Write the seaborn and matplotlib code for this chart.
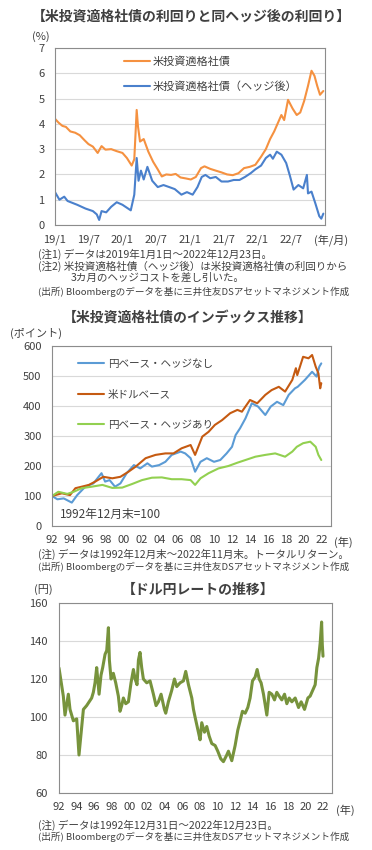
import pandas as pd
import matplotlib
matplotlib.use("Agg")
import matplotlib.pyplot as plt
import seaborn as sns

sns.set_style("white")
plt.rcParams['font.family'] = ['Noto Sans CJK JP', 'DejaVu Sans']

# ---- データ ----
# 1) 米投資適格社債の利回り（%）
yield_dates = ['2019-01-01', '2019-01-20', '2019-02-10', '2019-03-01', '2019-03-25', '2019-04-20',
               '2019-05-15', '2019-06-10', '2019-07-01', '2019-07-25', '2019-08-20', '2019-09-10',
               '2019-10-01', '2019-11-01', '2019-12-01', '2020-01-01', '2020-01-25', '2020-02-20',
               '2020-03-05', '2020-03-18', '2020-03-25', '2020-04-05', '2020-04-25', '2020-05-20',
               '2020-06-15', '2020-07-10', '2020-08-01', '2020-08-25', '2020-09-20', '2020-10-15',
               '2020-11-10', '2020-12-10', '2021-01-05', '2021-02-01', '2021-03-01', '2021-03-20',
               '2021-04-20', '2021-05-20', '2021-06-20', '2021-07-20', '2021-08-20', '2021-09-20',
               '2021-10-20', '2021-11-20', '2021-12-20', '2022-01-20', '2022-02-15', '2022-03-10',
               '2022-04-01', '2022-04-25', '2022-05-10', '2022-05-25', '2022-06-15', '2022-07-10',
               '2022-08-01', '2022-08-20', '2022-09-10', '2022-10-01', '2022-10-20', '2022-11-05',
               '2022-11-20', '2022-12-05', '2022-12-23']
yield_values = [4.2, 4.05, 3.92, 3.88, 3.70, 3.65,
                3.55, 3.35, 3.20, 3.10, 2.85, 3.12,
                2.98, 3.0, 2.92, 2.85, 2.65, 2.35,
                2.6, 4.55, 3.9, 3.3, 3.4, 2.9,
                2.5, 2.2, 1.92, 2.0, 1.98, 2.02,
                1.88, 1.84, 1.8, 1.9, 2.25, 2.32,
                2.22, 2.15, 2.08, 2.0, 1.97, 2.05,
                2.25, 2.3, 2.38, 2.7, 3.0, 3.4,
                3.7, 4.1, 4.35, 4.15, 4.95, 4.6,
                4.35, 4.45, 4.9, 5.5, 6.1, 5.9,
                5.5, 5.15, 5.3]

hedged_dates = ['2019-01-01', '2019-01-25', '2019-02-20', '2019-03-10', '2019-05-01', '2019-06-15',
                '2019-07-25', '2019-08-15', '2019-08-28', '2019-09-10', '2019-10-05', '2019-11-01',
                '2019-12-01', '2020-01-01', '2020-02-15', '2020-03-05', '2020-03-18', '2020-03-28',
                '2020-04-10', '2020-04-25', '2020-05-15', '2020-06-10', '2020-07-10', '2020-08-10',
                '2020-09-10', '2020-10-10', '2020-11-15', '2020-12-15', '2021-01-15', '2021-02-10',
                '2021-03-05', '2021-03-25', '2021-04-20', '2021-05-20', '2021-06-20', '2021-07-25',
                '2021-08-25', '2021-09-25', '2021-10-25', '2021-11-25', '2021-12-20', '2022-01-20',
                '2022-02-15', '2022-03-10', '2022-03-25', '2022-04-15', '2022-05-10', '2022-06-05',
                '2022-06-25', '2022-07-15', '2022-08-10', '2022-09-05', '2022-09-25', '2022-10-01',
                '2022-10-20', '2022-11-10', '2022-12-01', '2022-12-12', '2022-12-23']
hedged_values = [1.3, 1.0, 1.12, 0.95, 0.8, 0.65,
                 0.55, 0.42, 0.2, 0.55, 0.5, 0.72,
                 0.9, 0.8, 0.58, 1.2, 2.65, 1.75,
                 2.15, 1.8, 2.3, 1.75, 1.5, 1.58,
                 1.5, 1.42, 1.2, 1.3, 1.2, 1.5,
                 1.9, 1.98, 1.85, 1.9, 1.72, 1.72,
                 1.78, 1.78, 1.9, 2.05, 2.2, 2.35,
                 2.65, 2.78, 2.62, 2.9, 2.78, 2.45,
                 1.95, 1.4, 1.58, 1.45, 1.98, 1.25,
                 1.32, 0.85, 0.35, 0.25, 0.45]

# 2) インデックス（1992年12月末=100、x は年の小数表示）
idx_usd_years = [1993.0, 1994.1, 1995.0, 1995.6, 1996.3, 1997.1, 1997.8, 1998.7, 1999.7, 2000.6,
                 2001.5, 2002.3, 2003.4, 2004.5, 2005.6, 2006.5, 2007.4, 2008.4, 2008.9, 2009.7,
                 2010.4, 2011.1, 2011.9, 2012.8, 2013.6, 2014.1, 2015.0, 2015.8, 2016.7, 2017.4,
                 2018.2, 2018.9, 2019.7, 2020.1, 2020.25, 2020.9, 2021.5, 2021.9, 2022.3, 2022.6,
                 2022.8, 2022.92]
idx_usd = [100, 109, 103, 126, 131, 137, 148, 164, 159, 164,
           181, 198, 226, 237, 242, 242, 259, 270, 237, 298,
           314, 337, 353, 376, 387, 381, 420, 409, 437, 453,
           464, 448, 487, 526, 503, 564, 559, 570, 531, 509,
           459, 476]

idx_jpy_years = [1993.0, 1993.6, 1994.3, 1995.2, 1995.8, 1996.7, 1997.6, 1998.5, 1998.9, 1999.4,
                 2000.0, 2000.6, 2001.3, 2002.1, 2002.8, 2003.6, 2004.1, 2004.9, 2005.6, 2006.3,
                 2007.3, 2007.8, 2008.4, 2008.9, 2009.5, 2010.2, 2011.0, 2011.7, 2012.4, 2013.0,
                 2013.4, 2013.9, 2014.5, 2015.2, 2015.9, 2016.7, 2017.3, 2018.0, 2018.7, 2019.3,
                 2020.0, 2020.3, 2021.1, 2021.9, 2022.4, 2022.7, 2022.92]
idx_jpy = [100, 89, 92, 78, 103, 131, 142, 176, 148, 153,
           131, 142, 176, 203, 192, 209, 198, 203, 214, 237,
           248, 242, 226, 181, 214, 226, 214, 220, 242, 264,
           303, 326, 359, 409, 398, 370, 398, 414, 403, 437,
           459, 464, 487, 514, 498, 531, 542]

idx_hedge_years = [1993.0, 1993.7, 1994.7, 1995.4, 1996.3, 1997.4, 1998.6, 1999.7, 2000.8, 2001.9,
                   2003.0, 2004.1, 2005.2, 2006.3, 2007.4, 2008.4, 2008.9, 2009.5, 2010.4, 2011.5,
                   2012.6, 2013.6, 2014.5, 2015.6, 2016.7, 2017.8, 2018.9, 2019.7, 2020.2, 2020.9,
                   2021.7, 2022.3, 2022.6, 2022.92]
idx_hedge = [100, 114, 107, 114, 126, 131, 137, 127, 128, 140,
             153, 161, 162, 156, 156, 153, 137, 159, 176, 192,
             200, 211, 220, 231, 237, 242, 231, 248, 264, 276,
             281, 264, 237, 220]

# 3) ドル円レート（円）
fx_years = [1993.0, 1993.49, 1993.68, 1994.06, 1994.25, 1994.63, 1995.01, 1995.27, 1995.77, 1996.14,
            1996.71, 1996.9, 1997.09, 1997.28, 1997.55, 1997.77, 1997.96, 1998.23, 1998.42, 1998.61,
            1998.72, 1998.91, 1999.17, 1999.44, 1999.74, 1999.93, 2000.12, 2000.31, 2000.58, 2000.88,
            2001.18, 2001.45, 2001.64, 2001.86, 2002.02, 2002.2, 2002.39, 2002.58, 2002.96, 2003.34,
            2003.72, 2004.02, 2004.29, 2004.59, 2004.97, 2005.12, 2005.42, 2005.8, 2006.11, 2006.37,
            2006.75, 2007.13, 2007.39, 2007.7, 2008.08, 2008.27, 2008.45, 2008.83, 2009.02, 2009.21,
            2009.52, 2009.78, 2010.05, 2010.35, 2010.73, 2011.03, 2011.37, 2011.67, 2012.05, 2012.24,
            2012.62, 2013.0, 2013.3, 2013.57, 2013.83, 2014.14, 2014.44, 2014.7, 2014.97, 2015.27,
            2015.5, 2015.73, 2015.95, 2016.22, 2016.6, 2016.86, 2017.17, 2017.47, 2017.73, 2018.0,
            2018.3, 2018.61, 2018.87, 2019.14, 2019.44, 2019.82, 2020.2, 2020.5, 2020.88, 2021.26,
            2021.52, 2021.9, 2022.09, 2022.28, 2022.48, 2022.66, 2022.82, 2022.9, 2022.98]
fx_rate = [125.8, 111, 101, 112, 104, 98, 99, 80, 104, 106,
           110, 113, 118, 126, 112, 122, 126, 133, 135, 147,
           130, 120, 123, 118, 111, 103, 106, 110, 107, 108,
           118, 125, 120, 117, 130, 134, 126, 120, 118, 119,
           112, 106, 108, 112, 104, 102, 108, 114, 120, 116,
           118, 119, 124, 117, 110, 104, 100, 92, 88, 97,
           92, 95, 90, 86, 85, 82, 78, 76.5, 80, 82,
           77, 85, 93, 98, 103, 102, 105, 110, 119, 121,
           125, 120, 118, 112, 101, 113, 112, 109, 113, 111,
           109, 112, 107, 110, 108, 110, 105, 108, 104, 110,
           111, 115, 117, 126, 131, 139, 150, 138, 132]

# ---- 描画 ----
W, H = 372, 850
TXT = '#404040'
GRID = '#d9d9d9'
SPINE = '#8c8c8c'

fig = plt.figure(figsize=(W / 100, H / 100), dpi=100)


def fx(x):
    return x / W


def fy(y):
    return 1 - y / H


def make_ax(l, t, r, b, ypad):
    ax = fig.add_axes([fx(l), fy(b), (r - l) / W, (b - t) / H])
    for s in ax.spines.values():
        s.set_color(SPINE)
        s.set_linewidth(0.8)
    ax.grid(axis='y', color=GRID, lw=0.8)
    ax.set_axisbelow(True)
    ax.tick_params(axis='x', direction='in', length=3, color=SPINE, labelsize=8,
                   labelcolor=TXT, pad=6.5)
    ax.tick_params(axis='y', length=0, labelsize=8, labelcolor=TXT, pad=ypad)
    return ax


def fig_text(x, y, s, size=7.5, ha='left', weight='normal'):
    fig.text(fx(x), fy(y), s, fontsize=size, ha=ha, va='center', color=TXT, fontweight=weight)


NOTE = 7.6
SRC = 6.9

# パネル1
fig_text(191, 17, '【米投資適格社債の利回りと同ヘッジ後の利回り】', size=10, ha='center', weight='bold')
ax1 = make_ax(55, 48, 325, 225, 7.5)
df_y = pd.DataFrame({'date': pd.to_datetime(yield_dates), 'value': yield_values})
df_h = pd.DataFrame({'date': pd.to_datetime(hedged_dates), 'value': hedged_values})
sns.lineplot(data=df_y, x='date', y='value', ax=ax1, color='#F59140', lw=1.5, label='米投資適格社債')
sns.lineplot(data=df_h, x='date', y='value', ax=ax1, color='#4A80CC', lw=1.5,
             label='米投資適格社債（ヘッジ後）')
ax1.set_ylim(0, 7)
ax1.set_yticks(range(0, 8))
ax1.set_xlim(pd.Timestamp('2019-01-01'), pd.Timestamp('2023-01-01'))
tick_dates = pd.to_datetime(['2019-01-01', '2019-07-01', '2020-01-01', '2020-07-01',
                             '2021-01-01', '2021-07-01', '2022-01-01', '2022-07-01'])
ax1.set_xticks(tick_dates)
ax1.set_xticklabels(['19/1', '19/7', '20/1', '20/7', '21/1', '21/7', '22/1', '22/7'])
ax1.set_xlabel('')
ax1.set_ylabel('')
ax1.legend(loc='upper left', bbox_to_anchor=(fx(124), fy(56)), bbox_transform=fig.transFigure,
           frameon=False, fontsize=8, handlelength=2.3, handletextpad=0.3, labelspacing=1.3,
           borderaxespad=0, borderpad=0, labelcolor=TXT)
fig_text(41, 37, '(%)', size=8, ha='center')
fig_text(331, 240, '(年/月)', size=8, ha='center')
fig_text(38, 254, '(注1) データは2019年1月1日～2022年12月23日。', size=NOTE)
fig_text(38, 266, '(注2) 米投資適格社債（ヘッジ後）は米投資適格社債の利回りから', size=NOTE)
fig_text(71, 278, '3カ月のヘッジコストを差し引いた。', size=NOTE)
fig_text(38, 292, '(出所) Bloombergのデータを基に三井住友DSアセットマネジメント作成', size=SRC)

# パネル2
fig_text(188, 318, '【米投資適格社債のインデックス推移】', size=10, ha='center', weight='bold')
ax2 = make_ax(52, 346, 331, 526, 7.5)
sns.lineplot(x=idx_jpy_years, y=idx_jpy, ax=ax2, color='#5B9BD5', lw=1.5, label='円ベース・ヘッジなし')
sns.lineplot(x=idx_usd_years, y=idx_usd, ax=ax2, color='#C55A11', lw=1.5, label='米ドルベース')
sns.lineplot(x=idx_hedge_years, y=idx_hedge, ax=ax2, color='#92D050', lw=1.5, label='円ベース・ヘッジあり')
ax2.set_ylim(0, 600)
ax2.set_yticks(range(0, 601, 100))
ax2.set_xlim(1993, 2024)
year_ticks = list(range(1993, 2024, 2))
year_labels = ['%02d' % ((y - 1) % 100) for y in year_ticks]
ax2.set_xticks(year_ticks)
ax2.set_xticklabels(year_labels)
ax2.legend(loc='upper left', bbox_to_anchor=(fx(78), fy(359)), bbox_transform=fig.transFigure,
           frameon=False, fontsize=7.6, handlelength=2.5, handletextpad=0.3, labelspacing=1.95,
           borderaxespad=0, borderpad=0, labelcolor=TXT)
fig_text(60, 514, '1992年12月末=100', size=8.5)
fig_text(36, 333, '(ポイント)', size=8, ha='center')
fig_text(343, 542, '(年)', size=8, ha='center')
fig_text(38, 554, '(注) データは1992年12月末～2022年11月末。トータルリターン。', size=NOTE)
fig_text(38, 567, '(出所) Bloombergのデータを基に三井住友DSアセットマネジメント作成', size=SRC)

# パネル3
fig_text(198, 590, '【ドル円レートの推移】', size=10, ha='center', weight='bold')
ax3 = make_ax(59, 603, 332, 793, 8)
sns.lineplot(x=fx_years, y=fx_rate, ax=ax3, color='#77933C', lw=2.2)
ax3.set_ylim(60, 160)
ax3.set_yticks(range(60, 161, 20))
ax3.set_xlim(1993, 2024)
ax3.set_xticks(year_ticks)
ax3.set_xticklabels(year_labels)
fig_text(43, 590, '(円)', size=8, ha='center')
fig_text(345, 810, '(年)', size=8, ha='center')
fig_text(38, 825, '(注) データは1992年12月31日～2022年12月23日。', size=NOTE)
fig_text(38, 837, '(出所) Bloombergのデータを基に三井住友DSアセットマネジメント作成', size=SRC)

fig.savefig('out.png', dpi=100)
